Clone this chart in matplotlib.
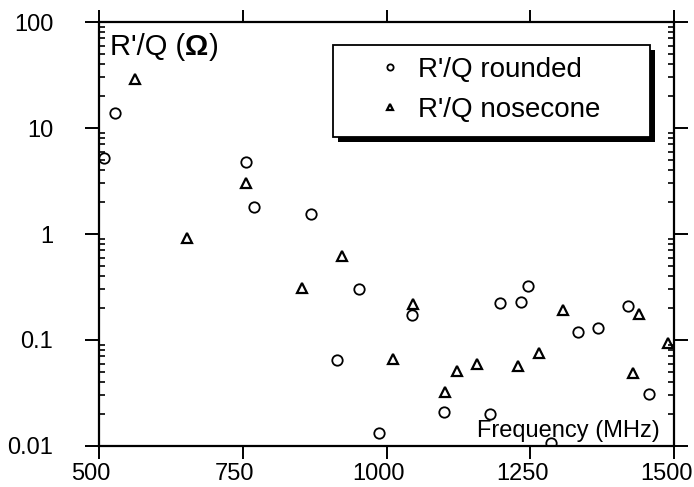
import matplotlib
matplotlib.use("Agg")
import matplotlib.pyplot as plt
from matplotlib.patches import Rectangle
from matplotlib.transforms import ScaledTranslation
from matplotlib.ticker import FixedLocator, FixedFormatter, LogLocator, NullFormatter, NullFormatter as _NF

plt.rcParams['font.family'] = ['Liberation Sans', 'DejaVu Sans']

# R'/Q for the rounded cavity
rounded_f = [509, 528, 756, 770, 869, 914, 952, 987, 1044, 1100, 1180, 1197,
             1234, 1246, 1286, 1333, 1368, 1420, 1457]
rounded_rq = [5.2, 13.9, 4.8, 1.8, 1.55, 0.065, 0.30, 0.0133, 0.172, 0.021, 0.020, 0.223,
              0.229, 0.32, 0.0107, 0.119, 0.13, 0.209, 0.031]

# R'/Q for the nosecone cavity
nose_f = [563, 653, 755, 853, 922, 1012, 1046, 1102, 1122, 1157, 1229, 1265,
          1307, 1429, 1439, 1490]
nose_rq = [29, 0.91, 3.03, 0.31, 0.62, 0.066, 0.22, 0.032, 0.051, 0.059, 0.057, 0.076,
           0.19, 0.049, 0.176, 0.093]

x_ticks = [500, 750, 1000, 1250, 1500]
x_labels = ["500", "750", "1000", "1250", "1500"]
y_ticks = [0.01, 0.1, 1, 10, 100]
y_labels = ["0.01", "0.1", "1", "10", "100"]

fig = plt.figure(figsize=(6.94, 4.87), dpi=100)
ax = fig.add_axes([0.1427, 0.0842, 0.8285, 0.8706])

ax.plot(rounded_f, rounded_rq, linestyle='none', marker='o', markersize=7.5,
        markerfacecolor='none', markeredgecolor='black', markeredgewidth=1.3,
        label="R'/Q rounded")
ax.plot(nose_f, nose_rq, linestyle='none', marker='^', markersize=6.5,
        markerfacecolor='none', markeredgecolor='black', markeredgewidth=1.6,
        label="R'/Q nosecone")

ax.set_yscale('log')
ax.set_xlim(500, 1500)
ax.set_ylim(0.01, 100)

ax.xaxis.set_major_locator(FixedLocator(x_ticks))
ax.xaxis.set_major_formatter(NullFormatter())
ax.yaxis.set_major_locator(FixedLocator(y_ticks))
ax.yaxis.set_major_formatter(FixedFormatter(y_labels))
ax.yaxis.set_minor_locator(LogLocator(base=10, subs=range(2, 10)))
ax.yaxis.set_minor_formatter(NullFormatter())

for s in ax.spines.values():
    s.set_linewidth(1.6)

ax.tick_params(axis='both', which='major', direction='out', top=True, right=True,
               width=1.4, color='black')
ax.tick_params(axis='y', which='major', length=10, pad=23, labelsize=17)
ax.tick_params(axis='x', which='major', length=9)
ax.tick_params(axis='y', which='minor', direction='in', left=True, right=True,
               length=4.5, width=1.2)

# x tick labels: drawn under their ticks, nudged a bit left like the original
xlab_trans = ax.get_xaxis_transform() + ScaledTranslation(-8 / 100, -17 / 100, fig.dpi_scale_trans)
for xv, lab in zip(x_ticks, x_labels):
    ax.text(xv, 0, lab, transform=xlab_trans, fontsize=17, ha='center', va='top')

# axis titles inside the frame
t1 = ax.text(0.019, 0.922, "R'/Q (", transform=ax.transAxes, fontsize=21,
             ha='left', va='baseline')
t2 = ax.annotate("Ω", xy=(1, 0), xycoords=t1, fontsize=21, fontweight='bold',
                 ha='left', va='bottom')
ax.annotate(")", xy=(1, 0), xycoords=t2, fontsize=21, ha='left', va='bottom')
ax.text(0.976, 0.021, "Frequency (MHz)", transform=ax.transAxes, fontsize=17,
        ha='right', va='baseline')

# legend box with a solid black drop shadow
bx0, bx1, by0, by1 = 0.407, 0.958, 0.729, 0.946
ax.add_patch(Rectangle((bx0 + 5 / 575, by0 - 5 / 424), bx1 - bx0, by1 - by0,
                       transform=ax.transAxes, facecolor='black', edgecolor='none',
                       zorder=4, clip_on=False))
ax.add_patch(Rectangle((bx0, by0), bx1 - bx0, by1 - by0, transform=ax.transAxes,
                       facecolor='white', edgecolor='black', linewidth=1.3,
                       zorder=4.5, clip_on=False))

leg = ax.legend(loc='center left', bbox_to_anchor=(0.475, 0.84), fontsize=20,
                markerscale=0.6, handlelength=1.3, handletextpad=0.36,
                borderpad=0, borderaxespad=0, labelspacing=0.5, frameon=False)
leg.set_zorder(5)

fig.savefig("out.png", dpi=100)
